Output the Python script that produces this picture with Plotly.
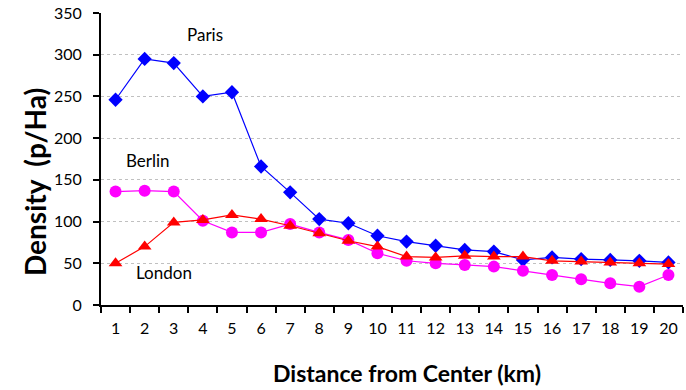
import plotly.graph_objects as go

# Distance bands from the city centre (km)
distance_km = [str(k) for k in range(1, 21)]

# Population density (persons per hectare) per distance band
paris = [246, 295, 290, 250, 255, 166, 135, 103, 98, 83,
         76, 71, 66, 64, 54, 57, 55, 54, 53, 51]
berlin = [136, 137, 136, 101, 87, 87, 97, 87, 78, 62,
          53, 50, 48, 46, 41, 36, 31, 26, 22, 36]
london = [50, 70, 99, 102, 108, 103, 95, 86, 77, 70,
          58, 57, 59, 58, 58, 53, 52, 51, 50, 49]

y_ticks = [0, 50, 100, 150, 200, 250, 300, 350]

FONT = "Lato, 'Open Sans', sans-serif"

fig = go.Figure()

fig.add_trace(go.Scatter(
    x=distance_km, y=paris, name="Paris", mode="lines+markers",
    line=dict(color="#0000FF", width=1.2),
    marker=dict(symbol="diamond", size=11, color="#0000FF"),
))
fig.add_trace(go.Scatter(
    x=distance_km, y=berlin, name="Berlin", mode="lines+markers",
    line=dict(color="#FF00FF", width=1.2),
    marker=dict(symbol="circle", size=12, color="#FF00FF"),
))
fig.add_trace(go.Scatter(
    x=distance_km, y=london, name="London", mode="lines+markers",
    line=dict(color="#FF0000", width=1.2),
    marker=dict(symbol="triangle-up", size=12, color="#FF0000"),
))

# City name labels placed next to their curves (x in category index units)
labels = [("Paris", 3.07, 324), ("Berlin", 1.1, 173), ("London", 1.65, 39)]
for text, xi, yv in labels:
    fig.add_annotation(x=xi, y=yv, text=text, showarrow=False,
                       font=dict(family=FONT, size=17, color="black"))

# Axis titles, placed relative to the plot corner
fig.add_annotation(
    text="<b>Distance from Center (km)</b>", showarrow=False,
    xref="paper", yref="paper", x=0, y=0, xanchor="center", yanchor="middle",
    xshift=306, yshift=-68,
    font=dict(family=FONT, size=23, color="black"),
)
fig.add_annotation(
    text="<b>Density  (p/Ha)</b>", showarrow=False, textangle=-90,
    xref="paper", yref="paper", x=0, y=0, xanchor="center", yanchor="middle",
    xshift=-66, yshift=123,
    font=dict(family=FONT, size=28, color="black"),
)

fig.update_layout(
    width=686, height=390,
    margin=dict(l=101, r=3, t=13, b=85),
    paper_bgcolor="white", plot_bgcolor="white",
    showlegend=False,
    font=dict(family=FONT, size=14, color="black"),
)

fig.update_xaxes(
    type="category", tickson="boundaries", range=[-0.5, 19.5],
    tickangle=0,
    ticks="outside", ticklen=6, tickwidth=1.5, tickcolor="black",
    showline=True, linecolor="black", linewidth=2,
    showgrid=False, ticklabelstandoff=8,
    tickfont=dict(family=FONT, size=16),
)
fig.update_yaxes(
    range=[0, 350], tickvals=y_ticks,
    ticks="outside", ticklen=6, tickwidth=1.5, tickcolor="black",
    showline=True, linecolor="black", linewidth=2,
    showgrid=True, gridcolor="#c0c0c0", gridwidth=1, griddash="dot",
    zeroline=False, ticklabelstandoff=8,
    tickfont=dict(family=FONT, size=16),
)

fig.write_html("out.html")
